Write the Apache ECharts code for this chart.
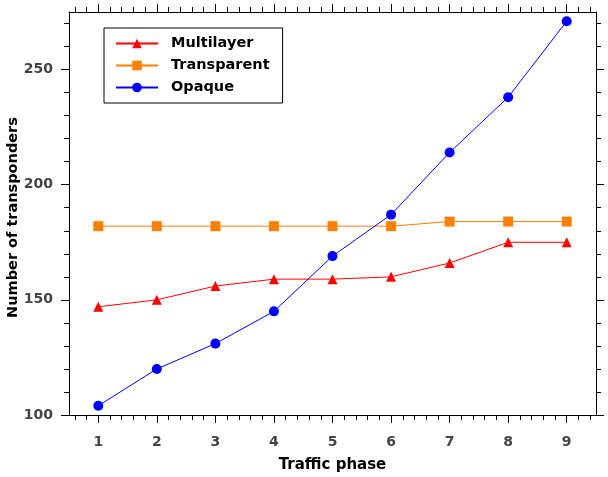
<!DOCTYPE html>
<html lang="en">
<head>
  <meta charset="UTF-8">
  <title>Transponders</title>
  <script src="https://cdn.jsdelivr.net/npm/echarts@6/dist/echarts.min.js"></script>
  <style type="text/css">
    html, body { margin: 0; padding: 0; background: #fff; }
    #main { width: 608px; height: 477px; }
  </style>
</head>
<body>
<div id="main"></div>
<script type="text/javascript">
// data
var phases = [1, 2, 3, 4, 5, 6, 7, 8, 9];
var multilayer = [147, 150, 156, 159, 159, 160, 166, 175, 175];
var transparent = [182, 182, 182, 182, 182, 182, 184, 184, 184];
var opaque = [104, 120, 131, 145, 169, 187, 214, 238, 271];
var yTicks = [100, 150, 200, 250];

// minor tick positions
var xMinor = [];
for (var i = 3; i <= 47; i++) {
  if (i % 5 != 0) xMinor.push(i / 5);
}
var yMinor = [];
for (var v = 110; v <= 270; v += 10) {
  if (v % 50 != 0) yMinor.push(v);
}

function pairs(ys) {
  var out = [];
  for (var i = 0; i < phases.length; i++) out.push([phases[i], ys[i]]);
  return out;
}

var lbl = { fontFamily: 'DejaVu Sans', fontWeight: 'bold', fontSize: 14, color: '#444' };
var line = { show: true, lineStyle: { color: '#000', width: 1 } };
var off = { show: false };

function xAx(pos, ticks, len, labels) {
  return {
    type: 'value', position: pos, min: 0.5, max: 9.5,
    axisLine: labels ? line : off,
    axisTick: { show: true, customValues: ticks, length: len, lineStyle: { color: '#000' } },
    axisLabel: labels ? Object.assign({ customValues: phases, margin: 20 }, lbl) : off,
    splitLine: off
  };
}
function yAx(pos, ticks, len, labels, drawLine) {
  return {
    type: 'value', position: pos, min: 100, max: 275,
    axisLine: drawLine ? line : off,
    axisTick: { show: true, customValues: ticks, length: len, lineStyle: { color: '#000' } },
    axisLabel: labels ? Object.assign({ customValues: yTicks, margin: 16 }, lbl) : off,
    splitLine: off
  };
}

var xAxes = [xAx('bottom', phases, 8, true), xAx('bottom', xMinor, 5, false),
             xAx('top', phases, 8, false), xAx('top', xMinor, 5, false)];
xAxes[0].name = 'Traffic phase';
xAxes[0].nameLocation = 'middle';
xAxes[0].nameGap = 43;
xAxes[0].nameTextStyle = { fontFamily: 'DejaVu Sans', fontWeight: 'bold', fontSize: 15, color: '#000' };
xAxes[2].axisLine = line;

var yAxes = [yAx('left', yTicks, 8, true, true), yAx('left', yMinor, 5, false, false),
             yAx('right', yTicks, 8, false, true), yAx('right', yMinor, 5, false, false)];
yAxes[0].name = 'Number of transponders';
yAxes[0].nameLocation = 'middle';
yAxes[0].nameGap = 48;
yAxes[0].nameMoveOverlap = false;
yAxes[0].nameTextStyle = { fontFamily: 'DejaVu Sans', fontWeight: 'bold', fontSize: 14.5, color: '#000', padding: [0, 8, 0, 0] };

var myChart = echarts.init(document.getElementById('main'));
var option = {
  animation: false,
  grid: { left: 69, right: 12, top: 12, bottom: 62, outerBoundsMode: 'none', containLabel: false },
  legend: {
    left: 104, top: 28,
    orient: 'vertical',
    borderColor: '#000', borderWidth: 1,
    padding: [8, 13, 8, 11],
    itemWidth: 42, itemHeight: 12, itemGap: 7,
    textStyle: { fontFamily: 'DejaVu Sans', fontWeight: 'bold', fontSize: 14.5, color: '#000', padding: [0, 0, 0, 8] },
    data: ['Multilayer', 'Transparent', 'Opaque']
  },
  xAxis: xAxes,
  yAxis: yAxes,
  series: [
    {
      name: 'Multilayer', type: 'line', data: pairs(multilayer),
      symbol: 'triangle', symbolSize: 10,
      itemStyle: { color: '#ff0000' }, lineStyle: { color: '#ff0000', width: 1 }
    },
    {
      name: 'Transparent', type: 'line', data: pairs(transparent),
      symbol: 'rect', symbolSize: 10,
      itemStyle: { color: '#ff8000' }, lineStyle: { color: '#ff8000', width: 1 }
    },
    {
      name: 'Opaque', type: 'line', data: pairs(opaque),
      symbol: 'circle', symbolSize: 10,
      itemStyle: { color: '#0000ff' }, lineStyle: { color: '#0000ff', width: 1 }
    }
  ]
};
myChart.setOption(option);
</script>
</body>
</html>
